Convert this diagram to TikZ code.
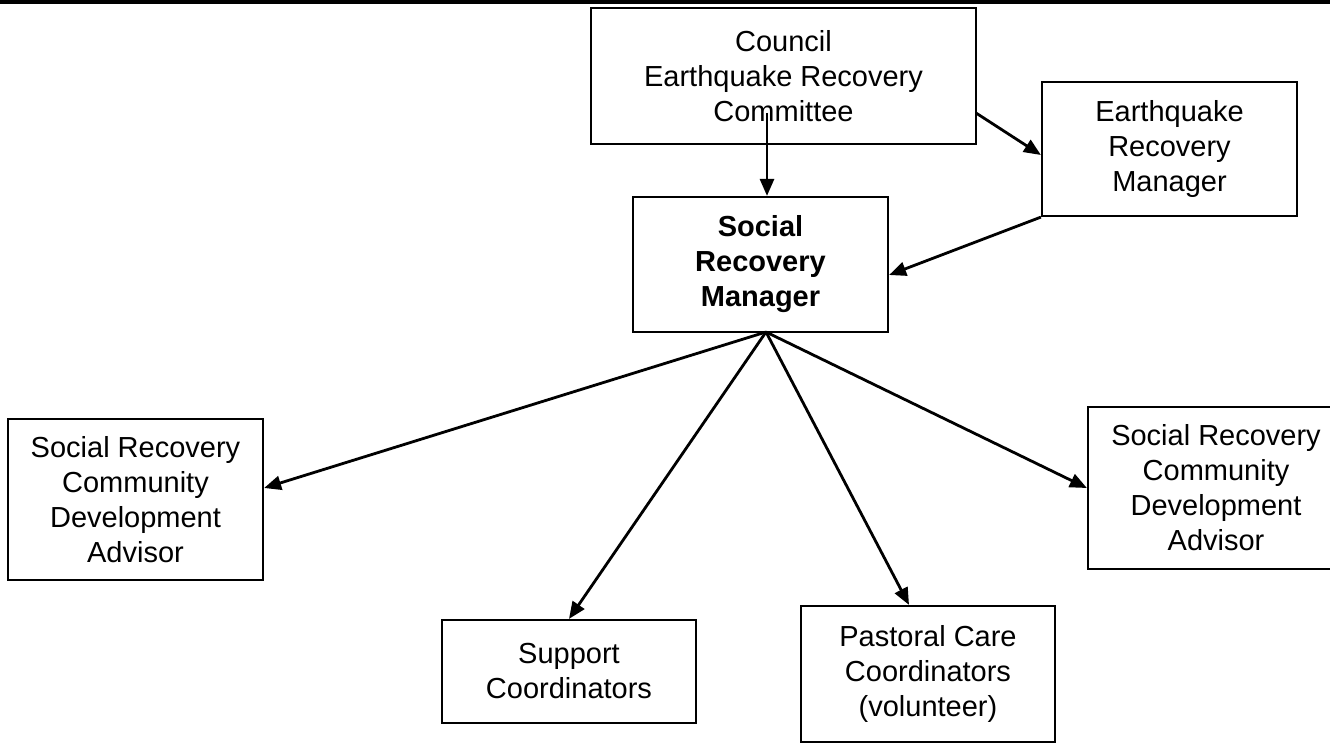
\documentclass[tikz,border=0pt]{standalone}
\usepackage{fontspec}
\setmainfont{Liberation Sans}
\usetikzlibrary{arrows.meta}
\begin{document}
\begin{tikzpicture}[x=1pt,y=-1pt,
  box/.style={draw=black,line width=2.2pt,inner sep=0pt,align=center,
    font=\fontsize{29}{35}\selectfont},
  arr/.style={line width=2.8pt,-{Triangle[length=17pt,width=14pt]}}]
\useasboundingbox (0,0) rectangle (1330,743);
\clip (0,0) rectangle (1330,743);
\draw[line width=4pt] (0,2) -- (1330,2);
% boxes
\node[box,minimum width=385pt,minimum height=136pt] (council) at (783.5,76)
  {Council\\Earthquake Recovery\\Committee};
\node[box,minimum width=255pt,minimum height=134pt] (erm) at (1169.5,149)
  {Earthquake\\Recovery\\Manager};
\node[box,minimum width=255pt,minimum height=135pt,font=\fontsize{29}{35}\selectfont\bfseries] (srm) at (760.5,264.5)
  {Social\\Recovery\\Manager};
\node[box,minimum width=255pt,minimum height=161pt] (left) at (135.5,499.5)
  {Social Recovery\\Community\\Development\\Advisor};
\node[box,minimum width=256pt,minimum height=162pt] (right) at (1216,488)
  {Social Recovery\\Community\\Development\\Advisor};
\node[box,minimum width=254pt,minimum height=103pt] (support) at (569,671.5)
  {Support\\Coordinators};
\node[box,minimum width=254pt,minimum height=136pt] (past) at (928,674)
  {Pastoral Care\\Coordinators\\(volunteer)};
% connector points
\coordinate (c1) at (767,113);
\coordinate (c2) at (976,113);
\coordinate (hub) at (766,332);
% connectors
\draw[arr] (c1) -- (srm.north -| c1);
\draw[arr] (c2) -- ([yshift=-6pt]erm.west);
\draw[arr] (erm.south west) -- ([yshift=-10.5pt]srm.east);
\draw[arr] (hub) -- ([yshift=11.5pt]left.east);
\draw[arr] (hub) -- (support.north);
\draw[arr] (hub) -- ([xshift=-19pt]past.north);
\draw[arr] (hub) -- (right.west);
\end{tikzpicture}
\end{document}
